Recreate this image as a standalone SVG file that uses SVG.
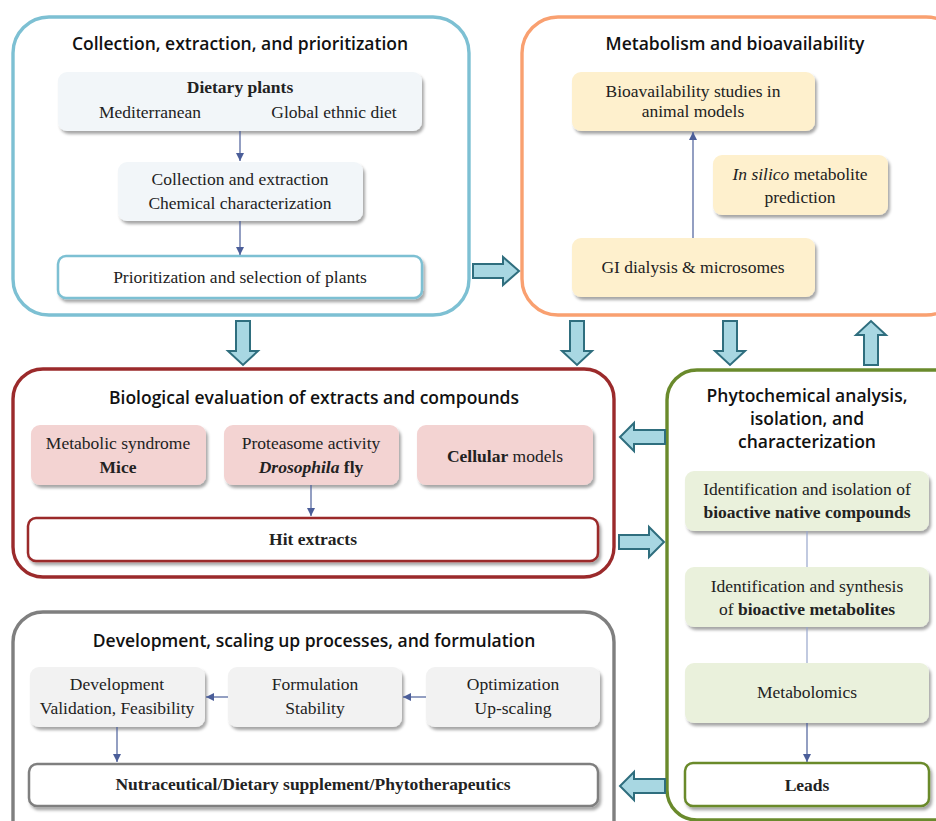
<svg xmlns="http://www.w3.org/2000/svg" width="936" height="821" viewBox="0 0 936 821">
<style>
.t{font-family:"Open Sans","Noto Sans",sans-serif;font-weight:600;font-size:17.5px;fill:#111;text-anchor:middle}
.b{font-family:"Liberation Serif",serif;font-size:17.5px;fill:#222;text-anchor:middle}
.bb{font-weight:bold}
.cont{fill:#fff;stroke-width:3.4}
.blk{fill:#A8D7E2;stroke:#2F6E7E;stroke-width:2}
.ln{stroke:#4B5E99;stroke-width:1.2;fill:none}
.ln2{stroke:#98A6CC;stroke-width:1.2;fill:none}
.sh{filter:url(#ds)}
</style>
<defs>
<filter id="ds" x="-10%" y="-20%" width="125%" height="150%">
<feDropShadow dx="2" dy="3" stdDeviation="1.8" flood-color="#000" flood-opacity="0.35"/>
</filter>
<marker id="ah" viewBox="0 0 10 10" refX="10" refY="5" markerWidth="8" markerHeight="8" markerUnits="userSpaceOnUse" orient="auto">
<path d="M0,0 L10,5 L0,10 Z" fill="#4B5E99"/>
</marker>
</defs>

<g id="collection">
<rect class="cont" x="13" y="17" width="456" height="298" rx="36" stroke="#7DC0D3"/>
<text class="t" x="240" y="50">Collection, extraction, and prioritization</text>
</g>
<g id="dietary-plants">
<rect class="sh" x="58" y="72" width="364" height="59" rx="9" fill="#F2F6F9"/>
<text class="b bb" x="240" y="93">Dietary plants</text>
<text class="b" x="150" y="118">Mediterranean</text>
<text class="b" x="334" y="118">Global ethnic diet</text>
</g>
<g id="collection-extraction">
<rect class="sh" x="118" y="162" width="245" height="59" rx="9" fill="#F2F6F9"/>
<text class="b" x="240" y="185">Collection and extraction</text>
<text class="b" x="240" y="209">Chemical characterization</text>
</g>
<g id="prioritization">
<rect class="sh" x="58" y="256" width="364" height="42" rx="8" fill="#fff" stroke="#7DC0D3" stroke-width="2.5"/>
<text class="b" x="240" y="283">Prioritization and selection of plants</text>
</g>

<g id="metabolism">
<rect class="cont" x="522" y="17" width="440" height="298" rx="36" stroke="#F9A070"/>
<text class="t" x="735" y="50">Metabolism and bioavailability</text>
</g>
<g id="bioavailability-studies">
<rect class="sh" x="572" y="72" width="243" height="59" rx="9" fill="#FEF0CD"/>
<text class="b" x="693" y="97">Bioavailability studies in</text>
<text class="b" x="693" y="117">animal models</text>
</g>
<g id="in-silico">
<rect class="sh" x="713" y="155" width="175" height="60" rx="9" fill="#FEF0CD"/>
<text class="b" x="800" y="180"><tspan font-style="italic">In silico</tspan> metabolite</text>
<text class="b" x="800" y="203">prediction</text>
</g>
<g id="gi-dialysis">
<rect class="sh" x="572" y="238" width="243" height="59" rx="9" fill="#FEF0CD"/>
<text class="b" x="693" y="273">GI dialysis &amp; microsomes</text>
</g>

<g id="biological">
<rect class="cont" x="13" y="369" width="601" height="208" rx="30" stroke="#9B2A2B"/>
<text class="t" x="314" y="404">Biological evaluation of extracts and compounds</text>
</g>
<g id="metabolic-syndrome">
<rect class="sh" x="31" y="425" width="175" height="60" rx="9" fill="#F3D3D2"/>
<text class="b" x="118" y="449">Metabolic syndrome</text>
<text class="b bb" x="118" y="473">Mice</text>
</g>
<g id="proteasome">
<rect class="sh" x="224" y="425" width="175" height="60" rx="9" fill="#F3D3D2"/>
<text class="b" x="311" y="449">Proteasome activity</text>
<text class="b bb" x="311" y="473"><tspan font-style="italic">Drosophila</tspan> fly</text>
</g>
<g id="cellular">
<rect class="sh" x="417" y="425" width="176" height="60" rx="9" fill="#F3D3D2"/>
<text class="b" x="505" y="462"><tspan font-weight="bold">Cellular</tspan> models</text>
</g>
<g id="hit-extracts">
<rect class="sh" x="28" y="518" width="570" height="43" rx="8" fill="#fff" stroke="#9B2A2B" stroke-width="2.5"/>
<text class="b bb" x="313" y="545">Hit extracts</text>
</g>

<g id="phytochemical">
<rect class="cont" x="667" y="370" width="300" height="450" rx="30" stroke="#6A8A2C"/>
<text class="t" x="807" y="402">Phytochemical analysis,</text>
<text class="t" x="807" y="425">isolation, and</text>
<text class="t" x="807" y="448">characterization</text>
</g>
<g id="native-compounds">
<rect class="sh" x="685" y="471" width="244" height="60" rx="9" fill="#EAF1DC"/>
<text class="b" x="807" y="495">Identification and isolation of</text>
<text class="b bb" x="807" y="518">bioactive native compounds</text>
</g>
<g id="metabolites">
<rect class="sh" x="685" y="567" width="244" height="60" rx="9" fill="#EAF1DC"/>
<text class="b" x="807" y="592">Identification and synthesis</text>
<text class="b" x="807" y="615">of <tspan font-weight="bold">bioactive metabolites</tspan></text>
</g>
<g id="metabolomics">
<rect class="sh" x="685" y="663" width="244" height="60" rx="9" fill="#EAF1DC"/>
<text class="b" x="807" y="698">Metabolomics</text>
</g>
<g id="leads">
<rect class="sh" x="685" y="763" width="244" height="43" rx="8" fill="#fff" stroke="#6A8A2C" stroke-width="2.5"/>
<text class="b bb" x="807" y="791">Leads</text>
</g>

<g id="development">
<rect class="cont" x="13" y="612" width="601" height="240" rx="30" stroke="#7F7F7F"/>
<text class="t" x="314" y="647">Development, scaling up processes, and formulation</text>
</g>
<g id="development-validation">
<rect class="sh" x="30" y="667" width="175" height="60" rx="9" fill="#F2F2F2"/>
<text class="b" x="117" y="690">Development</text>
<text class="b" x="117" y="714">Validation, Feasibility</text>
</g>
<g id="formulation">
<rect class="sh" x="228" y="667" width="174" height="60" rx="9" fill="#F2F2F2"/>
<text class="b" x="315" y="690">Formulation</text>
<text class="b" x="315" y="714">Stability</text>
</g>
<g id="optimization">
<rect class="sh" x="426" y="667" width="174" height="60" rx="9" fill="#F2F2F2"/>
<text class="b" x="513" y="690">Optimization</text>
<text class="b" x="513" y="714">Up-scaling</text>
</g>
<g id="nutraceutical">
<rect class="sh" x="29" y="764" width="569" height="42" rx="8" fill="#fff" stroke="#7F7F7F" stroke-width="2.5"/>
<text class="b bb" x="313" y="790">Nutraceutical/Dietary supplement/Phytotherapeutics</text>
</g>

<g id="connectors">
<line class="ln" x1="240" y1="131" x2="240" y2="161" marker-end="url(#ah)"/>
<line class="ln" x1="240" y1="221" x2="240" y2="255" marker-end="url(#ah)"/>
<line class="ln" x1="693" y1="238" x2="693" y2="132" marker-end="url(#ah)"/>
<line class="ln" x1="311" y1="485" x2="311" y2="516" marker-end="url(#ah)"/>
<line class="ln2" x1="807" y1="531" x2="807" y2="567"/>
<line class="ln2" x1="807" y1="627" x2="807" y2="663"/>
<line class="ln" x1="807" y1="723" x2="807" y2="762" marker-end="url(#ah)"/>
<line class="ln" x1="426" y1="697" x2="403" y2="697" marker-end="url(#ah)"/>
<line class="ln" x1="228" y1="697" x2="206" y2="697" marker-end="url(#ah)"/>
<line class="ln" x1="117" y1="727" x2="117" y2="762" marker-end="url(#ah)"/>
<path class="blk" d="M473,264 H503 V257 L519,271 L503,285 V278 H473 Z"/>
<path class="blk" d="M236,321 H250 V351 H258 L243,365 L228,351 H236 Z"/>
<path class="blk" d="M570,321 H584 V351 H592 L577,365 L562,351 H570 Z"/>
<path class="blk" d="M723,321 H737 V351 H745 L730,365 L715,351 H723 Z"/>
<path class="blk" d="M864,365 V335 H856 L871,321 L886,335 H878 V365 Z"/>
<path class="blk" d="M665,430 H634 V423 L620,437 L634,451 V444 H665 Z"/>
<path class="blk" d="M619,535 H649 V527 L664,542 L649,557 V549 H619 Z"/>
<path class="blk" d="M665,779 H634 V772 L620,786 L634,800 V793 H665 Z"/>
</g>
</svg>
